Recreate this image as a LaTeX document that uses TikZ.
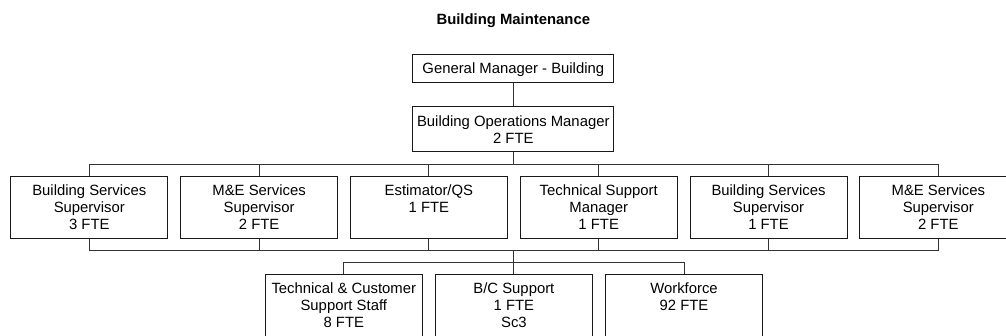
\documentclass[tikz,border=0pt]{standalone}
\usepackage{fontspec}
\setmainfont{Liberation Sans}
\newcommand\bxtext[4]{\parbox[c][#2pt][t]{#1pt}{\centering\rule{0pt}{#3pt}#4}}
\begin{document}
\begin{tikzpicture}[x=1pt,y=-1pt,
  orgbox/.style={draw=black!90, line width=0.9pt, inner sep=0pt, anchor=north,
     font=\fontsize{14.86pt}{17pt}\selectfont},
  conn/.style={draw=black!80, line width=0.9pt},
  ttl/.style={font=\fontsize{14.86pt}{17pt}\selectfont\bfseries, inner sep=0pt, anchor=base}]
\useasboundingbox (0,0) rectangle (1006,336);
\clip (0,0) rectangle (1006,336);
\fill[white] (0,0) rectangle (1006,336);

\node[ttl] (title) at (513.3,24.3) {Building Maintenance};

\node[orgbox] (gm) at (513.3,54) {\bxtext{201}{28}{19.3}{General Manager - Building}};
\node[orgbox] (bom) at (513.3,106) {\bxtext{201}{45}{20.3}{Building Operations Manager\\2 FTE}};

\node[orgbox] (r1) at (89.3,176) {\bxtext{157}{62}{18.8}{Building Services\\Supervisor\\3 FTE}};
\node[orgbox] (r2) at (259.1,176) {\bxtext{157}{62}{18.8}{M\&E Services\\Supervisor\\2 FTE}};
\node[orgbox] (r3) at (428.9,176) {\bxtext{157}{62}{18.8}{Estimator/QS\\1 FTE}};
\node[orgbox] (r4) at (598.7,176) {\bxtext{157}{62}{18.8}{Technical Support\\Manager\\1 FTE}};
\node[orgbox] (r5) at (768.5,176) {\bxtext{157}{62}{18.8}{Building Services\\Supervisor\\1 FTE}};
\node[orgbox] (r6) at (938.3,176) {\bxtext{157}{62}{18.8}{M\&E Services\\Supervisor\\2 FTE}};

\node[orgbox] (c1) at (343.8,274) {\bxtext{157}{72}{19.3}{Technical \& Customer\\Support Staff\\8 FTE}};
\node[orgbox] (c2) at (513.9,274) {\bxtext{157}{72}{19.3}{B/C Support\\1 FTE\\Sc3}};
\node[orgbox] (c3) at (684,274) {\bxtext{157}{72}{19.3}{Workforce\\92 FTE}};

\coordinate (bt) at (513.3,164);
\coordinate (bb) at (513.3,250);
\coordinate (cb) at (513.3,262.7);

\draw[conn] (gm.south) -- (bom.north);
\draw[conn] (bom.south) -- (bt);
\draw[conn] (r1.north) -- (r1.north |- bt) -- (r6.north |- bt) -- (r6.north);
\foreach \n in {r2,r3,r4,r5} \draw[conn] (\n.north) -- (\n.north |- bt);
\draw[conn] (r1.south) -- (r1.south |- bb) -- (r6.south |- bb) -- (r6.south);
\foreach \n in {r2,r3,r4,r5} \draw[conn] (\n.south) -- (\n.south |- bb);
\draw[conn] (bb) -- (cb);
\draw[conn] (c1.north) -- (c1.north |- cb) -- (c3.north |- cb) -- (c3.north);
\draw[conn] (c2.north) -- (c2.north |- cb);
\end{tikzpicture}
\end{document}
